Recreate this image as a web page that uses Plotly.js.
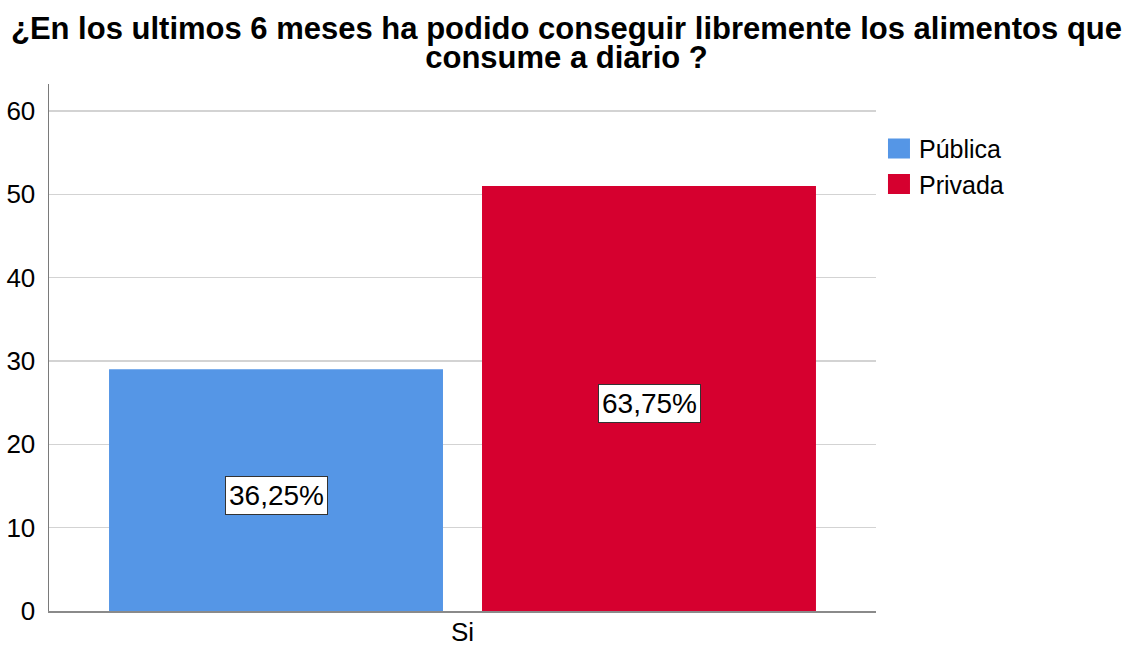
<!DOCTYPE html>
<html>
<head>
<meta charset="utf-8">
<script src="https://cdn.plot.ly/plotly-3.0.1.min.js"></script>
<style>html,body{margin:0;padding:0;background:#fff;}#chart{width:1133px;height:646px;}</style>
</head>
<body>
<div id="chart"></div>
<script>
var categories = ["Si"];
var seriesNames = ["Pública", "Privada"];
var publicaValues = [29];
var privadaValues = [51];
var seriesColors = ["#5596E6", "#D6002F"];
var yTicks = [0, 10, 20, 30, 40, 50, 60];
var chartTitle = "¿En los ultimos 6 meses ha podido conseguir libremente los alimentos que<br>consume a diario ?";

var FONT = "Arial, 'Liberation Sans', sans-serif";
var allSeries = [publicaValues, privadaValues];
var total = publicaValues[0] + privadaValues[0];

var traces = allSeries.map(function (vals, i) {
  return {
    type: "bar",
    name: seriesNames[i],
    x: categories,
    y: vals,
    marker: {color: seriesColors[i], line: {width: 0}},
    hoverinfo: "skip"
  };
});

function pct(v) {
  return (v / total * 100).toFixed(2).replace(".", ",") + "%";
}

var annotations = [];
allSeries.forEach(function (vals, i) {
  vals.forEach(function (v, j) {
    annotations.push({
      x: categories[j], y: v / 2, xref: "x", yref: "y",
      xshift: (i === 0 ? -1 : 1) * 186.5, yshift: -5,
      text: pct(v), showarrow: false,
      font: {family: FONT, size: 28, color: "#000"},
      bgcolor: "#fff", bordercolor: "#333", borderwidth: 1, borderpad: 3
    });
  });
});

var layout = {
  width: 1133, height: 646,
  margin: {l: 49, r: 257, t: 84, b: 35},
  paper_bgcolor: "#fff", plot_bgcolor: "#fff",
  font: {family: FONT, size: 26, color: "#000"},
  title: {text: chartTitle, font: {family: FONT, size: 31, color: "#000", weight: "bold"},
          x: 0.5, xref: "container", xanchor: "center", yref: "container", y: 0.9397, yanchor: "top"},
  barmode: "group", bargap: 0.098, bargroupgap: 0.1046,
  showlegend: true,
  legend: {x: 1.0036, xanchor: "left", y: 0.921, yanchor: "top",
           font: {family: FONT, size: 25, color: "#000"}, bgcolor: "rgba(0,0,0,0)",
           traceorder: "normal"},
  xaxis: {type: "category", range: [-0.5, 0.5], showgrid: false, zeroline: false,
          showline: true, linecolor: "#8a8a8a", linewidth: 2,
          ticks: "", ticklabelstandoff: -3,
          tickfont: {family: FONT, size: 26, color: "#000"}},
  yaxis: {range: [0, 63.24], tickvals: yTicks, showgrid: true, gridcolor: "#d3d3d3", gridwidth: 1.5,
          zeroline: false, showline: true, linecolor: "#7a7a7a", linewidth: 1.5,
          ticks: "outside", ticklen: 7, tickcolor: "rgba(0,0,0,0)",
          tickfont: {family: FONT, size: 26, color: "#000"}},
  annotations: annotations
};

Plotly.newPlot("chart", traces, layout, {displayModeBar: false, staticPlot: true}).then(function () {
  document.querySelectorAll(".legend .legendpoints path").forEach(function (p) {
    p.setAttribute("d", "M11,10H-11V-10H11Z");
  });
  var lines = document.querySelectorAll(".gtitle tspan.line");
  for (var i = 1; i < lines.length; i++) {
    lines[i].setAttribute("dy", (i * 0.95) + "em");
  }
});
</script>
</body>
</html>
